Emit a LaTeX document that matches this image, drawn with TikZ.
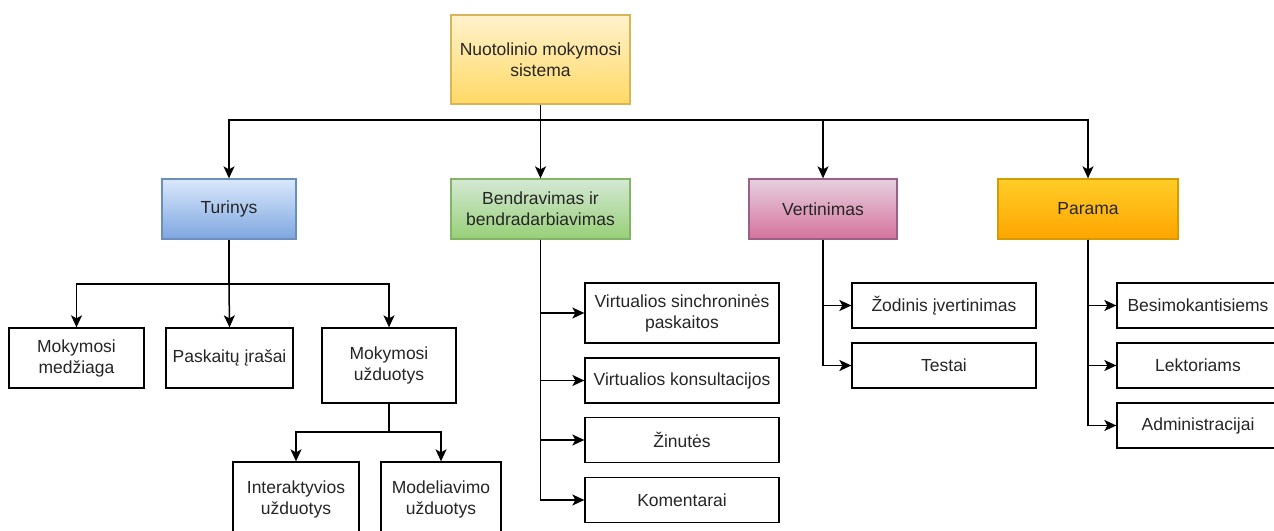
\documentclass[tikz,border=0pt]{standalone}
\usepackage{fontspec}
\setmainfont{Liberation Sans}
\usetikzlibrary{arrows.meta}

\definecolor{txt}{HTML}{262626}
\definecolor{yelTop}{HTML}{FFF2CC}\definecolor{yelBot}{HTML}{FFD966}\definecolor{yelLine}{HTML}{D6B656}
\definecolor{bluTop}{HTML}{DAE8FC}\definecolor{bluBot}{HTML}{7EA6E0}\definecolor{bluLine}{HTML}{6C8EBF}
\definecolor{grnTop}{HTML}{D5E8D4}\definecolor{grnBot}{HTML}{97D077}\definecolor{grnLine}{HTML}{82B366}
\definecolor{pnkTop}{HTML}{E6D0DE}\definecolor{pnkBot}{HTML}{D5739D}\definecolor{pnkLine}{HTML}{996185}
\definecolor{orgTop}{HTML}{FFCD28}\definecolor{orgBot}{HTML}{FFA500}\definecolor{orgLine}{HTML}{D79B00}

\tikzset{
  base/.style={rectangle, inner sep=2bp, align=center, text=txt,
    font=\fontsize{17.5bp}{21bp}\selectfont, line width=1.3bp},
  plain/.style={base, draw=black, fill=white},
  grad/.style n args={3}{base, draw=#3, top color=#1, bottom color=#2},
  sz/.style 2 args={minimum width=#1bp, minimum height=#2bp},
  conn/.style={draw=black, line width=1.5bp,
    -{Stealth[length=12bp,width=11bp,inset=3bp]}},
  link/.style={draw=black, line width=1.5bp}
}

\begin{document}
\begin{tikzpicture}[x=1bp, y=-1bp]
\useasboundingbox (0,0) rectangle (1274,531);
\clip (0,0) rectangle (1274,531);

% root
\node[grad={yelTop}{yelBot}{yelLine}, sz={179}{89}] (root) at (540.5,59.5)
  {Nuotolinio mokymosi\\sistema};

% first level
\node[grad={bluTop}{bluBot}{bluLine}, sz={134}{60}] (tur) at (229,209) {Turinys};
\node[grad={grnTop}{grnBot}{grnLine}, sz={179}{60}] (ben) at (540.5,209)
  {Bendravimas ir\\bendradarbiavimas};
\node[grad={pnkTop}{pnkBot}{pnkLine}, sz={148}{60}] (ver) at (823,209) {Vertinimas};
\node[grad={orgTop}{orgBot}{orgLine}, sz={180}{60}] (par) at (1088,209) {Parama};

% Turinys branch
\node[plain, sz={135}{60}] (med) at (76.5,358) {Mokymosi\\medžiaga};
\node[plain, sz={127}{60}] (ira) at (229.5,358) {Paskaitų įrašai};
\node[plain, sz={134}{75}] (uzd) at (389,365.5) {Mokymosi\\užduotys};
\node[plain, sz={126}{75}] (int) at (296,499.5) {Interaktyvios\\užduotys};
\node[plain, sz={120}{75}] (mod) at (441,499.5) {Modeliavimo\\užduotys};

% Bendravimas branch
\node[plain, sz={194}{60}] (vsp) at (682,313) {Virtualios sinchroninės\\paskaitos};
\node[plain, sz={194}{45}] (vko) at (682,380.5) {Virtualios konsultacijos};
\node[plain, sz={194}{45}] (zin) at (682,440) {Žinutės};
\node[plain, sz={194}{45}] (kom) at (682,500) {Komentarai};

% Vertinimas branch
\node[plain, sz={184}{45}] (zod) at (944,305.5) {Žodinis įvertinimas};
\node[plain, sz={184}{45}] (tes) at (944,365.5) {Testai};

% Parama branch
\node[plain, sz={162}{45}] (bes) at (1198,305.5) {Besimokantisiems};
\node[plain, sz={162}{45}] (lek) at (1198,365.5) {Lektoriams};
\node[plain, sz={162}{45}] (adm) at (1198,425.5) {Administracijai};

% bus joints
\coordinate (rootbus) at (540.5,120);
\coordinate (turbus)  at (229,284);
\coordinate (uzdbus)  at (389,432);

% root to first level
\draw[link] (root.south) -- (rootbus);
\draw[conn] (rootbus) -| (tur.north);
\draw[conn] (rootbus) -- (ben.north);
\draw[conn] (rootbus) -| (ver.north);
\draw[conn] (rootbus) -| (par.north);

% Turinys children
\draw[link] (tur.south) -- (turbus);
\draw[conn] (turbus) -| (med.north);
\draw[conn] (turbus) -- (ira.north);
\draw[conn] (turbus) -| (uzd.north);

% Mokymosi užduotys children
\draw[link] (uzd.south) -- (uzdbus);
\draw[conn] (uzdbus) -| (int.north);
\draw[conn] (uzdbus) -| (mod.north);

% side branches
\foreach \c in {vsp,vko,zin,kom} \draw[conn] (ben.south) |- (\c.west);
\foreach \c in {zod,tes} \draw[conn] (ver.south) |- (\c.west);
\foreach \c in {bes,lek,adm} \draw[conn] (par.south) |- (\c.west);
\end{tikzpicture}
\end{document}
